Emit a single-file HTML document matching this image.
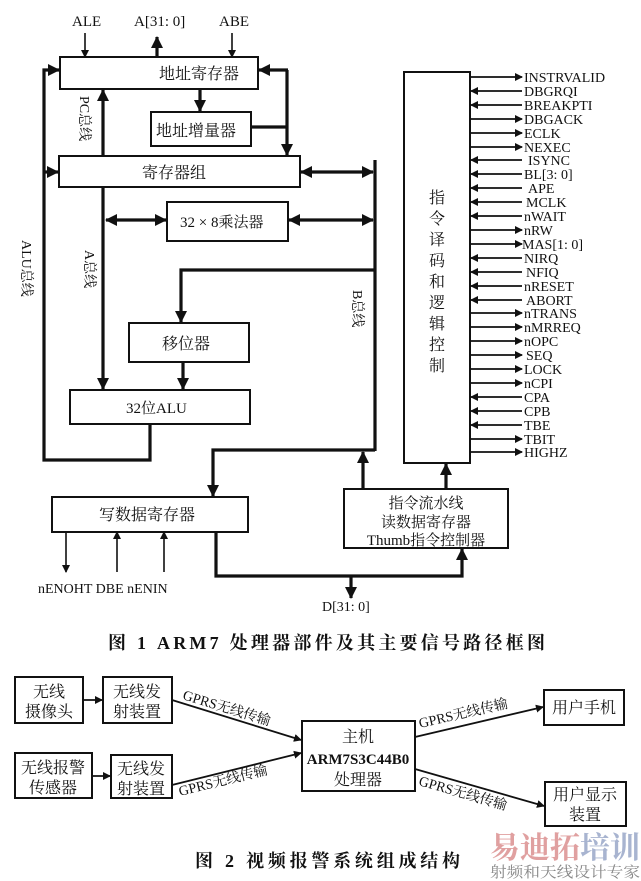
<!DOCTYPE html>
<html><head><meta charset="utf-8"><style>
html,body{margin:0;padding:0;background:#fff;}
svg{display:block;}
text{font-family:"Liberation Serif","Noto Serif CJK SC","Noto Sans CJK SC",serif;fill:#111;}
</style></head><body>
<svg width="641" height="881" viewBox="0 0 641 881" xmlns="http://www.w3.org/2000/svg">
<defs>
<marker id="a" markerWidth="8" markerHeight="8" refX="7" refY="4" orient="auto" markerUnits="userSpaceOnUse"><path d="M0,0 L8,4 L0,8 z" fill="#111"/></marker>
<marker id="b" markerWidth="12" markerHeight="12" refX="11" refY="6" orient="auto" markerUnits="userSpaceOnUse"><path d="M0,0 L12,6 L0,12 z" fill="#111"/></marker>
<marker id="bs" markerWidth="12" markerHeight="12" refX="1" refY="6" orient="auto" markerUnits="userSpaceOnUse"><path d="M12,0 L0,6 L12,12 z" fill="#111"/></marker>
</defs>
<g fill="none" stroke="#111" stroke-width="2">
<rect x="60" y="57" width="198" height="32"/>
<rect x="151" y="112" width="100" height="34"/>
<rect x="59" y="156" width="241" height="31"/>
<rect x="167" y="202" width="121" height="39"/>
<rect x="129" y="323" width="120" height="39"/>
<rect x="70" y="390" width="180" height="34"/>
<rect x="52" y="497" width="196" height="35"/>
<rect x="344" y="489" width="164" height="59"/>
<rect x="404" y="72" width="66" height="391"/>
</g>
<g fill="none" stroke="#111" stroke-width="1.6">
<line x1="85" y1="33" x2="85" y2="57" marker-end="url(#a)"/>
<line x1="232" y1="33" x2="232" y2="57" marker-end="url(#a)"/>
<line x1="66" y1="532" x2="66" y2="572" marker-end="url(#a)"/>
<line x1="117" y1="572" x2="117" y2="532" marker-end="url(#a)"/>
<line x1="164" y1="572" x2="164" y2="532" marker-end="url(#a)"/>
</g>
<g fill="none" stroke="#111" stroke-width="3.2">
<line x1="157" y1="57" x2="157" y2="37" marker-end="url(#b)"/>
<polyline points="150,424 150,460 44,460 44,70 59,70" marker-end="url(#b)"/>
<line x1="44" y1="172" x2="58" y2="172" marker-end="url(#b)"/>
<line x1="103" y1="156" x2="103" y2="90" marker-end="url(#b)"/>
<line x1="200" y1="89" x2="200" y2="111" marker-end="url(#b)"/>
<polyline points="251,127 287,127"/>
<line x1="287" y1="70" x2="287" y2="155" marker-end="url(#b)"/>
<line x1="288" y1="70" x2="259" y2="70" marker-end="url(#b)"/>
<line x1="301" y1="172" x2="373" y2="172" marker-end="url(#b)" marker-start="url(#bs)"/>
<line x1="103" y1="187" x2="103" y2="389" marker-end="url(#b)"/>
<line x1="106" y1="220" x2="166" y2="220" marker-end="url(#b)" marker-start="url(#bs)"/>
<line x1="289" y1="220" x2="373" y2="220" marker-end="url(#b)" marker-start="url(#bs)"/>
<line x1="375" y1="160" x2="375" y2="451"/>
<polyline points="375,270 181,270 181,322" marker-end="url(#b)"/>
<line x1="183" y1="362" x2="183" y2="389" marker-end="url(#b)"/>
<polyline points="375,450 213,450 213,496" marker-end="url(#b)"/>
<line x1="363" y1="489" x2="363" y2="452" marker-end="url(#b)"/>
<line x1="446" y1="489" x2="446" y2="464" marker-end="url(#b)"/>
<polyline points="216,532 216,576 462,576 462,549" marker-end="url(#b)"/>
<line x1="351" y1="576" x2="351" y2="598" marker-end="url(#b)"/>
</g>
<g font-size="15">
<text x="72" y="26">ALE</text>
<text x="134" y="26">A[31: 0]</text>
<text x="219" y="26">ABE</text>
<text x="159" y="79" font-size="16">地址寄存器</text>
<text x="156" y="136" font-size="16">地址增量器</text>
<text x="142" y="178" font-size="16">寄存器组</text>
<text x="180" y="227" font-size="15">32 × 8乘法器</text>
<text x="162" y="349" font-size="16">移位器</text>
<text x="126" y="413" font-size="15">32位ALU</text>
<text x="99" y="520" font-size="16">写数据寄存器</text>
<text x="38" y="593" font-size="14">nENOHT DBE nENIN</text>
<text x="322" y="611" font-size="14">D[31: 0]</text>
<text x="426" y="508" text-anchor="middle" font-size="15">指令流水线</text>
<text x="426" y="527" text-anchor="middle" font-size="15">读数据寄存器</text>
<text x="426" y="545" text-anchor="middle" font-size="15">Thumb指令控制器</text>
<g font-size="14">
<text transform="translate(80,96) rotate(90)">PC总线</text>
<text transform="translate(85,250) rotate(90)">A总线</text>
<text transform="translate(353,290) rotate(90)">B总线</text>
<text transform="translate(22,240) rotate(90)">ALU总线</text>
</g>
<g font-size="16" text-anchor="middle">
<text x="437" y="203">指</text><text x="437" y="224">令</text><text x="437" y="245">译</text><text x="437" y="266">码</text><text x="437" y="287">和</text><text x="437" y="308">逻</text><text x="437" y="329">辑</text><text x="437" y="350">控</text><text x="437" y="371">制</text>
</g>
</g>
<g stroke="#111" stroke-width="1.8" fill="none">
<line x1="470" y1="77" x2="522" y2="77" marker-end="url(#a)"/>
<line x1="522" y1="91" x2="471" y2="91" marker-end="url(#a)"/>
<line x1="522" y1="105" x2="471" y2="105" marker-end="url(#a)"/>
<line x1="470" y1="119" x2="522" y2="119" marker-end="url(#a)"/>
<line x1="470" y1="133" x2="522" y2="133" marker-end="url(#a)"/>
<line x1="470" y1="147" x2="522" y2="147" marker-end="url(#a)"/>
<line x1="522" y1="160" x2="471" y2="160" marker-end="url(#a)"/>
<line x1="522" y1="174" x2="471" y2="174" marker-end="url(#a)"/>
<line x1="522" y1="188" x2="471" y2="188" marker-end="url(#a)"/>
<line x1="522" y1="202" x2="471" y2="202" marker-end="url(#a)"/>
<line x1="522" y1="216" x2="471" y2="216" marker-end="url(#a)"/>
<line x1="470" y1="230" x2="522" y2="230" marker-end="url(#a)"/>
<line x1="470" y1="244" x2="522" y2="244" marker-end="url(#a)"/>
<line x1="522" y1="258" x2="471" y2="258" marker-end="url(#a)"/>
<line x1="522" y1="272" x2="471" y2="272" marker-end="url(#a)"/>
<line x1="522" y1="286" x2="471" y2="286" marker-end="url(#a)"/>
<line x1="522" y1="300" x2="471" y2="300" marker-end="url(#a)"/>
<line x1="470" y1="313" x2="522" y2="313" marker-end="url(#a)"/>
<line x1="470" y1="327" x2="522" y2="327" marker-end="url(#a)"/>
<line x1="470" y1="341" x2="522" y2="341" marker-end="url(#a)"/>
<line x1="470" y1="355" x2="522" y2="355" marker-end="url(#a)"/>
<line x1="470" y1="369" x2="522" y2="369" marker-end="url(#a)"/>
<line x1="470" y1="383" x2="522" y2="383" marker-end="url(#a)"/>
<line x1="522" y1="397" x2="471" y2="397" marker-end="url(#a)"/>
<line x1="522" y1="411" x2="471" y2="411" marker-end="url(#a)"/>
<line x1="522" y1="425" x2="471" y2="425" marker-end="url(#a)"/>
<line x1="470" y1="439" x2="522" y2="439" marker-end="url(#a)"/>
<line x1="470" y1="452" x2="522" y2="452" marker-end="url(#a)"/>
</g>
<g font-size="14">
<text x="524" y="82">INSTRVALID</text><text x="524" y="96">DBGRQI</text><text x="524" y="110">BREAKPTI</text><text x="524" y="124">DBGACK</text><text x="524" y="138">ECLK</text><text x="524" y="152">NEXEC</text><text x="528" y="165">ISYNC</text><text x="524" y="179">BL[3: 0]</text><text x="528" y="193">APE</text><text x="526" y="207">MCLK</text><text x="524" y="221">nWAIT</text><text x="524" y="235">nRW</text><text x="522" y="249">MAS[1: 0]</text><text x="524" y="263">NIRQ</text><text x="526" y="277">NFIQ</text><text x="524" y="291">nRESET</text><text x="526" y="305">ABORT</text><text x="524" y="318">nTRANS</text><text x="524" y="332">nMRREQ</text><text x="524" y="346">nOPC</text><text x="526" y="360">SEQ</text><text x="524" y="374">LOCK</text><text x="524" y="388">nCPI</text><text x="524" y="402">CPA</text><text x="524" y="416">CPB</text><text x="524" y="430">TBE</text><text x="524" y="444">TBIT</text><text x="524" y="457">HIGHZ</text>
</g>
<text x="108" y="649" font-size="18" font-weight="bold" textLength="437" lengthAdjust="spacing">图 1  ARM7 处理器部件及其主要信号路径框图</text>
<!-- Fig 2 -->
<g fill="none" stroke="#111" stroke-width="2">
<rect x="15" y="677" width="68" height="46"/>
<rect x="103" y="677" width="69" height="46"/>
<rect x="15" y="753" width="77" height="45"/>
<rect x="111" y="755" width="61" height="43"/>
<rect x="302" y="721" width="113" height="70"/>
<rect x="544" y="690" width="80" height="35"/>
<rect x="545" y="782" width="81" height="44"/>
</g>
<g stroke="#111" stroke-width="1.8" fill="none">
<line x1="83" y1="700" x2="102" y2="700" marker-end="url(#a)"/>
<line x1="92" y1="776" x2="110" y2="776" marker-end="url(#a)"/>
<line x1="172" y1="700" x2="301" y2="740" marker-end="url(#a)"/>
<line x1="172" y1="785" x2="301" y2="753" marker-end="url(#a)"/>
<line x1="415" y1="737" x2="543" y2="707" marker-end="url(#a)"/>
<line x1="415" y1="769" x2="544" y2="806" marker-end="url(#a)"/>
</g>
<g font-size="16" text-anchor="middle">
<text x="49" y="697">无线</text><text x="49" y="717">摄像头</text>
<text x="137" y="697">无线发</text><text x="137" y="717">射装置</text>
<text x="53" y="773">无线报警</text><text x="53" y="793">传感器</text>
<text x="141" y="774">无线发</text><text x="141" y="794">射装置</text>
<text x="358" y="742">主机</text>
<text x="358" y="764" font-family="Liberation Sans,sans-serif" font-weight="bold" font-size="15">ARM7S3C44B0</text>
<text x="358" y="785">处理器</text>
<text x="584" y="713">用户手机</text>
<text x="585" y="800">用户显示</text><text x="585" y="820">装置</text>
</g>
<g font-size="14">
<text transform="translate(182,699) rotate(17)">GPRS无线传输</text>
<text transform="translate(180,796) rotate(-14)">GPRS无线传输</text>
<text transform="translate(420,728) rotate(-13)">GPRS无线传输</text>
<text transform="translate(418,785) rotate(16)">GPRS无线传输</text>
</g>
<text x="195" y="867" font-size="18" font-weight="bold" textLength="265" lengthAdjust="spacing">图 2  视频报警系统组成结构</text>
<text x="490" y="858" font-size="30" font-weight="bold" style="fill:#e0a0a0" textLength="150" lengthAdjust="spacingAndGlyphs" font-family="Liberation Sans,Noto Sans CJK SC,sans-serif">易迪拓<tspan style="fill:#a8b4d0">培训</tspan></text>
<text x="490" y="877" font-size="15" style="fill:#888" textLength="150" lengthAdjust="spacingAndGlyphs" font-family="Liberation Sans,Noto Sans CJK SC,sans-serif">射频和天线设计专家</text>
</svg>
</body></html>
